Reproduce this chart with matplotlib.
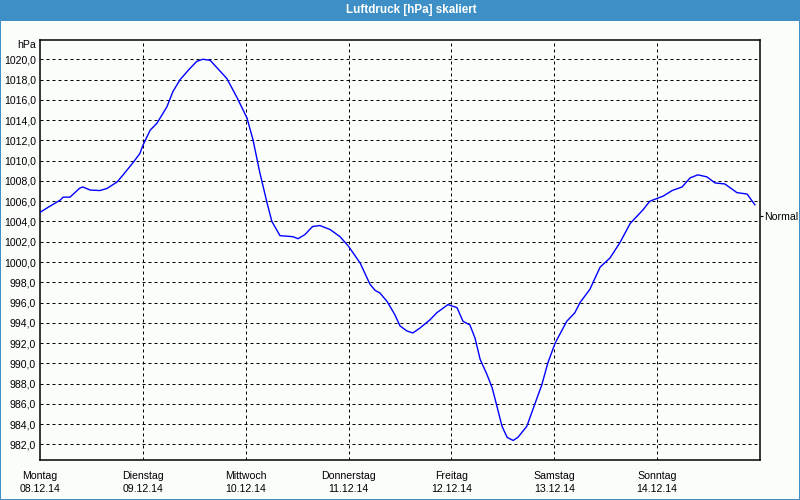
import matplotlib
matplotlib.use("Agg")
import matplotlib.pyplot as plt
from matplotlib.patches import Rectangle
from matplotlib.transforms import blended_transform_factory

# ---- data ----
hours = [0, 2.3, 4.7, 5.4, 7.0, 9.3, 10.0, 11.7, 14.0, 15.6, 18.0, 19.4, 21.7, 23.3,
         24.0, 25.7, 27.3, 29.6, 31.0, 32.7, 35.0, 36.6, 38.0, 39.7, 43.6, 46.0,
         48.3, 49.7, 51.3, 53.0, 54.1, 56.0, 59.0, 60.2, 61.8, 63.6, 65.3, 67.7,
         70.0, 71.9, 74.7, 77.0, 78.2, 79.3, 81.0, 82.8, 84.0, 85.6, 87.0, 88.7,
         91.0, 92.6, 95.2, 97.3, 98.7, 100.3, 101.5, 102.7, 104.3, 105.5, 106.6,
         107.8, 109.0, 110.4, 111.5, 113.6, 115.0, 117.1, 118.5, 120.2, 122.9,
         124.8, 126.0, 128.3, 130.7, 133.0, 135.3, 137.7, 140.7, 142.3, 145.4,
         147.5, 149.8, 151.7, 153.5, 155.6, 157.5, 159.8, 162.6, 165.0, 166.8]
pressure = [1004.9, 1005.5, 1006.1, 1006.4, 1006.4, 1007.3, 1007.4, 1007.1, 1007.05,
            1007.25, 1007.9, 1008.6, 1009.8, 1010.7, 1011.5, 1013.0, 1013.7, 1015.3,
            1016.8, 1018.0, 1019.1, 1019.8, 1020.0, 1019.9, 1018.1, 1016.2, 1014.2,
            1012.05, 1008.8, 1005.8, 1004.0, 1002.6, 1002.5, 1002.3, 1002.7, 1003.5,
            1003.6, 1003.2, 1002.5, 1001.6, 999.9, 997.8, 997.2, 996.95, 996.1, 994.8,
            993.7, 993.2, 993.0, 993.5, 994.3, 995.0, 995.8, 995.5, 994.15, 993.8,
            992.5, 990.4, 988.9, 987.6, 985.8, 983.8, 982.7, 982.4, 982.7, 983.8,
            985.45, 987.9, 990.05, 992.0, 994.15, 995.0, 996.0, 997.3, 999.5, 1000.4,
            1001.9, 1003.8, 1005.15, 1006.0, 1006.5, 1007.05, 1007.4, 1008.3, 1008.6,
            1008.4, 1007.8, 1007.7, 1006.85, 1006.7, 1005.65]
day_names = ["Montag", "Dienstag", "Mittwoch", "Donnerstag", "Freitag", "Samstag", "Sonntag"]
day_dates = ["08.12.14", "09.12.14", "10.12.14", "11.12.14", "12.12.14", "13.12.14", "14.12.14"]
y_ticks = [982, 984, 986, 988, 990, 992, 994, 996, 998, 1000, 1002, 1004, 1006,
           1008, 1010, 1012, 1014, 1016, 1018, 1020]
normal_value = 1004.5
title = "Luftdruck [hPa] skaliert"

plt.rcParams["font.family"] = ["Liberation Sans", "DejaVu Sans"]
FS = 7.6
BLUE_BAR = "#3d8fc5"
BG = "#fbfdfb"
W, H = 800, 500

fig = plt.figure(figsize=(8, 5), dpi=100, facecolor=BG)

# title bar and window border
fig.patches.append(Rectangle((0, 1 - 20.5 / H), 1, 20.5 / H, transform=fig.transFigure,
                             facecolor=BLUE_BAR, edgecolor="none", zorder=0))
for rect in [(0, 0, 1.2 / W, 1), (1 - 1.2 / W, 0, 1.2 / W, 1), (0, 0, 1, 1.2 / H)]:
    fig.patches.append(Rectangle(rect[:2], rect[2], rect[3], transform=fig.transFigure,
                                 facecolor=BLUE_BAR, edgecolor="none", zorder=0))
fig.text(411 / W, 1 - 10.5 / H, title, color="white", fontsize=8.4, fontweight="bold",
         ha="center", va="center")

ax = fig.add_axes([40 / W, 40 / H, 720 / W, 420 / H])
ax.set_facecolor(BG)
ax.plot(hours, pressure, color="#0000ff", lw=1.0, zorder=3)

ax.set_xlim(0, 168)
ax.set_ylim(980.47, 1021.9)

ax.set_yticks(y_ticks)
ax.set_yticklabels([f"{v:.1f}".replace(".", ",") for v in y_ticks], fontsize=FS)
ax.set_xticks([24 * i for i in range(len(day_names))])
ax.set_xticklabels([])
ax.tick_params(axis="both", length=0, pad=3)

# day labels below axis
trans = blended_transform_factory(ax.transData, fig.transFigure)
for i, (n, d) in enumerate(zip(day_names, day_dates)):
    ax.text(24 * i, 1 - 475.7 / H, n, transform=trans, ha="center", va="center",
            fontsize=FS, clip_on=False)
    ax.text(24 * i, 1 - 489.3 / H, d, transform=trans, ha="center", va="center",
            fontsize=FS, clip_on=False)

for v in y_ticks:
    ax.axhline(v, color="black", lw=0.72, ls=(0, (3, 3)), zorder=1)
for i in range(1, len(day_names)):
    ax.axvline(24 * i, color="black", lw=0.72, ls=(0, (3, 3)), zorder=1)

for s in ax.spines.values():
    s.set_linewidth(1.1)
    s.set_color("black")

ax.text(36 / W, 1 - 45.5 / H, "hPa", transform=fig.transFigure, ha="right", va="center",
        fontsize=FS)

# Normal marker on the right
ax2 = ax.twinx()
ax2.set_ylim(ax.get_ylim())
ax2.set_yticks([normal_value])
ax2.set_yticklabels(["Normal"], fontsize=FS)
ax2.tick_params(axis="y", length=2.5, width=0.8, pad=0.5)
for s in ax2.spines.values():
    s.set_visible(False)

fig.savefig("out.png", dpi=100, facecolor=BG)
